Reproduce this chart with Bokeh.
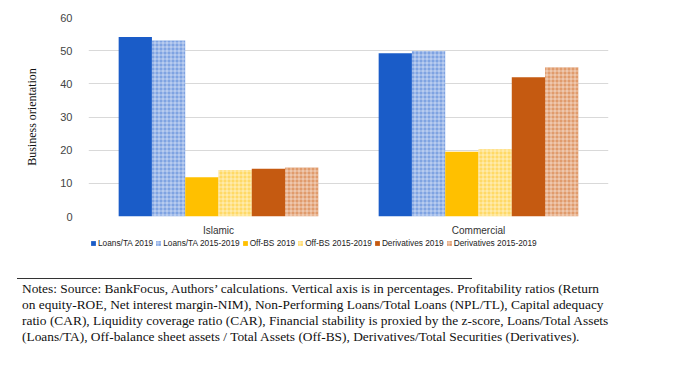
from bokeh.plotting import figure
from bokeh.models import ColumnDataSource, Legend, LegendItem, Div, Range1d
from bokeh.layouts import column
from bokeh.transform import dodge
from bokeh.embed import file_html
from bokeh.resources import INLINE

categories = ["Islamic", "Commercial"]
series_names = ["Loans/TA 2019", "Loans/TA 2015-2019", "Off-BS 2019",
                "Off-BS 2015-2019", "Derivatives 2019", "Derivatives 2015-2019"]
loans_2019 = [54.1, 49.2]
loans_2015_2019 = [53.1, 49.9]
offbs_2019 = [11.8, 19.5]
offbs_2015_2019 = [14.0, 20.3]
deriv_2019 = [14.4, 42.0]
deriv_2015_2019 = [14.8, 45.0]
y_ticks = [0, 10, 20, 30, 40, 50, 60]

notes_lines = [
    "Notes: Source: BankFocus, Authors\u2019 calculations. Vertical axis is in percentages. Profitability ratios (Return",
    "on equity-ROE, Net interest margin-NIM), Non-Performing Loans/Total Loans (NPL/TL), Capital adequacy",
    "ratio (CAR), Liquidity coverage ratio (CAR), Financial stability is proxied by the z-score, Loans/Total Assets",
    "(Loans/TA), Off-balance sheet assets / Total Assets (Off-BS), Derivatives/Total Securities (Derivatives).",
]

src = ColumnDataSource(dict(cat=categories, s0=loans_2019, s1=loans_2015_2019,
                            s2=offbs_2019, s3=offbs_2015_2019,
                            s4=deriv_2019, s5=deriv_2015_2019))

hatch = dict(hatch_pattern="+", hatch_color="white", hatch_alpha=0.5, hatch_scale=4, hatch_weight=1)
styles = [
    dict(fill_color="#1a5cc8"),
    dict(fill_color="#7fa3e2", **hatch),
    dict(fill_color="#ffc000"),
    dict(fill_color="#ffd966", **hatch),
    dict(fill_color="#c55a11"),
    dict(fill_color="#e09b6c", **hatch),
]
bw = 0.128
offsets = [-2.5 * bw, -1.5 * bw, -0.5 * bw, 0.5 * bw, 1.5 * bw, 2.5 * bw]

# main chart
p = figure(x_range=categories, y_range=(0, 60), frame_width=520, frame_height=199,
           output_backend="svg", toolbar_location=None,
           min_border_left=88, min_border_right=92, min_border_top=17,
           min_border_bottom=18)
p.outline_line_color = None
for i, (st, off) in enumerate(zip(styles, offsets)):
    p.vbar(x=dodge("cat", off, range=p.x_range), top="s%d" % i, width=bw,
           source=src, line_color=None, **st)

p.xgrid.grid_line_color = None
p.ygrid.grid_line_color = "#d9d9d9"
p.ygrid.ticker = y_ticks
p.yaxis.ticker = y_ticks
p.axis.axis_line_color = None
p.axis.major_tick_line_color = None
p.axis.minor_tick_line_color = None
p.yaxis.major_label_text_font = "Liberation Sans"
p.yaxis.major_label_text_font_size = "11px"
p.yaxis.major_label_text_color = "#444444"
p.yaxis.major_label_standoff = 10
p.yaxis.axis_label = "Business orientation"
p.yaxis.axis_label_text_font = "Liberation Serif"
p.yaxis.axis_label_text_font_style = "normal"
p.yaxis.axis_label_text_font_size = "12px"
p.yaxis.axis_label_text_color = "#111111"
p.yaxis.axis_label_standoff = 18
p.xaxis.major_label_text_font = "Liberation Sans"
p.xaxis.major_label_text_font_size = "10px"
p.xaxis.major_label_text_color = "#333333"
p.xaxis.major_label_standoff = 2

# legend strip (its bars lie outside the visible y range; only the legend shows)
lg = figure(x_range=p.x_range, y_range=Range1d(1000, 1001), frame_width=700, frame_height=14,
            output_backend="svg", toolbar_location=None,
            min_border_left=0, min_border_right=0, min_border_top=0, min_border_bottom=0)
lg.outline_line_color = None
lg.axis.visible = False
lg.grid.visible = False
items = []
for i, (name, st, off) in enumerate(zip(series_names, styles, offsets)):
    r = lg.vbar(x=dodge("cat", off, range=lg.x_range), top="s%d" % i, width=bw,
                source=src, line_color=None, **st)
    items.append(LegendItem(label=name, renderers=[r]))
legend = Legend(items=items, orientation="horizontal", location=(90, 4),
                label_text_font="Liberation Sans", label_text_font_size="8.3px",
                label_text_color="#222222", glyph_width=6, glyph_height=6,
                label_height=10, label_standoff=2, spacing=2, padding=0, margin=0,
                border_line_color=None, background_fill_alpha=0)
lg.add_layout(legend)

notes_html = ("<div style=\"margin-left:12px;width:455px;border-top:1px solid #333;"
              "padding:2px 0 0 5px;font-family:'Liberation Serif';font-size:13.4px;"
              "line-height:16px;color:#111;white-space:nowrap;\">"
              + "<br>".join(notes_lines) + "</div>")
notes = Div(text=notes_html, width=700, height=90, styles={"margin-top": "26px"})

layout = column(p, lg, notes, spacing=0)
open("out.html", "w").write(file_html(layout, INLINE))
